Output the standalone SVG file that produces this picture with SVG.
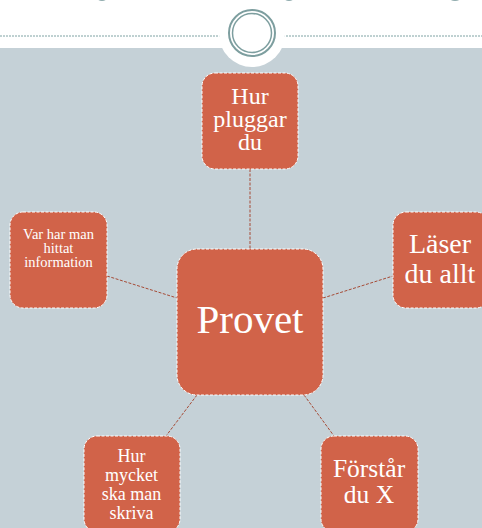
<svg xmlns="http://www.w3.org/2000/svg" width="482" height="528" viewBox="0 0 482 528">
<style>
.node{fill:#D16349;stroke:#FFFFFF;stroke-width:1;stroke-dasharray:3 1.5}
.lbl{font-family:"Liberation Serif","Times New Roman",serif;fill:#FFFFFF;text-anchor:middle}
.conn{stroke:#A64B36;stroke-width:1;stroke-dasharray:3 1.5;fill:none}
.ring{fill:none;stroke:#7D9E9F}
</style>
<rect x="0" y="0" width="482" height="528" fill="#FFFFFF"/>
<rect x="0" y="48" width="482" height="480" fill="#C5D1D7"/>
<g id="header">
<ellipse cx="102" cy="-4" rx="6" ry="5" fill="#8FABAD"/>
<ellipse cx="289" cy="-4" rx="6" ry="5" fill="#8FABAD"/>
<ellipse cx="455" cy="-4" rx="7" ry="5" fill="#8FABAD"/>
<line x1="0" y1="36" x2="220" y2="36" stroke="#7FA2A3" stroke-width="1" stroke-dasharray="2 1"/>
<line x1="283" y1="36" x2="482" y2="36" stroke="#7FA2A3" stroke-width="1" stroke-dasharray="2 1"/>
<circle cx="252" cy="34" r="33" fill="#FFFFFF"/>
<circle class="ring" cx="252" cy="33" r="23" stroke-width="2"/>
<circle class="ring" cx="252" cy="33" r="19.5" stroke-width="1.5"/>
</g>
<g id="connectors">
<line class="conn" x1="250" y1="169" x2="250" y2="249"/>
<line class="conn" x1="107" y1="276" x2="177" y2="298"/>
<line class="conn" x1="323" y1="298" x2="393" y2="276"/>
<line class="conn" x1="197" y1="395" x2="166" y2="436"/>
<line class="conn" x1="304" y1="395" x2="334" y2="436"/>
</g>
<g id="node-provet">
<rect class="node" x="177" y="249" width="146" height="146" rx="20"/>
<text class="lbl" x="250" y="333" font-size="41">Provet</text>
</g>
<g id="node-hur-pluggar">
<rect class="node" x="202" y="73" width="96" height="96" rx="13"/>
<text class="lbl" font-size="24"><tspan x="250" y="104">Hur</tspan><tspan x="250" y="127">pluggar</tspan><tspan x="250" y="150">du</tspan></text>
</g>
<g id="node-var-har">
<rect class="node" x="10" y="212" width="97" height="96" rx="13"/>
<text class="lbl" font-size="14.5"><tspan x="58.5" y="239">Var har man</tspan><tspan x="58.5" y="253">hittat</tspan><tspan x="58.5" y="267">information</tspan></text>
</g>
<g id="node-laser">
<rect class="node" x="393" y="212" width="96" height="96" rx="13"/>
<text class="lbl" font-size="28"><tspan x="440" y="253">Läser</tspan><tspan x="440" y="283">du allt</tspan></text>
</g>
<g id="node-hur-mycket">
<rect class="node" x="84" y="436" width="96" height="96" rx="13"/>
<text class="lbl" font-size="18"><tspan x="131.5" y="462">Hur</tspan><tspan x="131.5" y="481">mycket</tspan><tspan x="131.5" y="500">ska man</tspan><tspan x="131.5" y="519">skriva</tspan></text>
</g>
<g id="node-forstar">
<rect class="node" x="321" y="436" width="97" height="96" rx="13"/>
<text class="lbl" font-size="25.5"><tspan x="369" y="477">Förstår</tspan><tspan x="369" y="503">du X</tspan></text>
</g>
</svg>
